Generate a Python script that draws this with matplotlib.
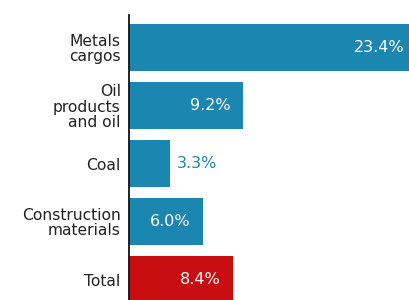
import matplotlib
matplotlib.use('Agg')
import matplotlib.pyplot as plt

# data
categories = ['Metals\ncargos', 'Oil\nproducts\nand oil', 'Coal', 'Construction\nmaterials', 'Total']
values = [23.4, 9.2, 3.3, 6.0, 8.4]
value_labels = ['23.4%', '9.2%', '3.3%', '6.0%', '8.4%']

BLUE = '#1b86b0'
RED = '#c80d10'
colors = [BLUE, BLUE, BLUE, BLUE, RED]

plt.rcParams['font.family'] = ['DejaVu Sans']

fig = plt.figure(figsize=(4.09, 3.00), dpi=100)
ax = fig.add_axes([129 / 409, 0, 1 - 129 / 409, 285 / 300])

y = list(range(len(categories)))
ax.barh(y, values, height=0.81, color=colors)

xmax = 22.58
ax.set_xlim(0, xmax)
ax.set_ylim(4.353, -0.56)

for i, (v, lab) in enumerate(zip(values, value_labels)):
    if v < 5:
        # short bar: label outside in blue
        ax.annotate(lab, (v, i), xytext=(5, 0), textcoords='offset points',
                    ha='left', va='center', color=BLUE, fontsize=11.5)
    elif v > xmax:
        ax.annotate(lab, (xmax, i), xytext=(-3, 0), textcoords='offset points',
                    ha='right', va='center', color='white', fontsize=11.5)
    else:
        ax.annotate(lab, (v, i), xytext=(-9, 0), textcoords='offset points',
                    ha='right', va='center', color='white', fontsize=11.5)

ax.set_yticks(y)
ax.set_yticklabels(categories, fontsize=11.2, color='#222222', linespacing=1.03)
ax.tick_params(axis='y', length=0, pad=6)
ax.set_xticks([])

for s in ['top', 'right', 'bottom']:
    ax.spines[s].set_visible(False)
ax.spines['left'].set_linewidth(1.3)
ax.spines['left'].set_color('#111111')

fig.savefig('out.png', dpi=100)
